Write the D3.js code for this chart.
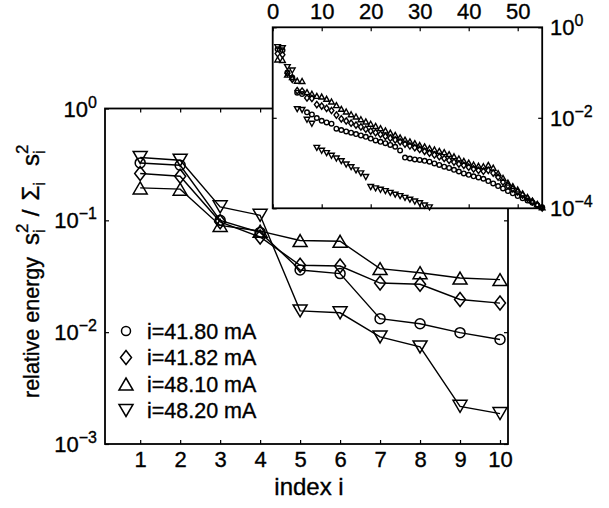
<!DOCTYPE html>
<html>
<head>
<meta charset="utf-8">
<script src="https://cdn.jsdelivr.net/npm/d3@7"></script>
<style>
  body { margin: 0; background: #fff; }
  text { font-family: "Liberation Sans", Arial, Helvetica, sans-serif; fill: #000; stroke: #000; stroke-width: 0.35px; }
</style>
</head>
<body>
<svg id="chart" width="609" height="508"></svg>
<script>
// relative energy s_i^2 / sum s_i^2, one array per current (index i = position + 1)
var energy4180 = [0.326, 0.311, 0.100, 0.078, 0.036, 0.0334, 0.0132, 0.0119, 0.0099, 0.0086,
  7.9e-3, 7.4e-3, 5.75e-3, 5.37e-3, 5.0e-3, 4.68e-3, 4.37e-3, 4.07e-3, 3.8e-3, 3.47e-3,
  3.16e-3, 2.95e-3, 2.75e-3, 2.51e-3, 2.29e-3, 1.9e-3, 1.32e-3, 1.26e-3, 1.2e-3, 1.17e-3,
  1.12e-3, 1.07e-3, 9.8e-4, 9.1e-4, 8.3e-4, 7.8e-4, 7.1e-4, 6.5e-4, 5.9e-4, 5.5e-4,
  5.1e-4, 4.8e-4, 4.5e-4, 4.0e-4, 3.55e-4, 3.1e-4, 2.75e-4, 2.4e-4, 2.14e-4, 1.86e-4,
  1.66e-4, 1.48e-4, 1.32e-4, 1.17e-4, 1.05e-4];
var energy4182 = [0.262, 0.248, 0.097, 0.071, 0.0397, 0.039, 0.0275, 0.0268, 0.0196, 0.0182,
  1.62e-2, 1.45e-2, 1.15e-2, 9.5e-3, 8.5e-3, 7.6e-3, 6.9e-3, 6.3e-3, 5.6e-3, 5.1e-3,
  4.7e-3, 4.3e-3, 3.9e-3, 3.55e-3, 3.24e-3, 2.95e-3, 2.63e-3, 2.4e-3, 2.19e-3, 2.0e-3,
  1.82e-3, 1.66e-3, 1.51e-3, 1.38e-3, 1.26e-3, 1.15e-3, 1.05e-3, 9.5e-4, 8.9e-4, 8.1e-4,
  7.4e-4, 6.9e-4, 6.6e-4, 6.9e-4, 6.0e-4, 4.9e-4, 3.8e-4, 3.16e-4, 2.7e-4, 2.3e-4,
  1.95e-4, 1.66e-4, 1.41e-4, 1.2e-4, 1.02e-4];
var energy4810 = [0.195, 0.19, 0.090, 0.080, 0.066, 0.065, 0.037, 0.034, 0.0305, 0.0295,
  2.63e-2, 2.29e-2, 1.91e-2, 1.58e-2, 1.38e-2, 1.2e-2, 1.07e-2, 9.3e-3, 8.3e-3, 7.4e-3,
  6.6e-3, 5.9e-3, 5.25e-3, 4.7e-3, 4.2e-3, 3.7e-3, 3.3e-3, 3.0e-3, 2.75e-3, 2.5e-3,
  2.34e-3, 2.14e-3, 2.0e-3, 1.86e-3, 1.74e-3, 1.58e-3, 1.41e-3, 1.26e-3, 1.12e-3, 1.02e-3,
  9.3e-4, 8.7e-4, 8.5e-4, 9.1e-4, 7.9e-4, 6.0e-4, 4.7e-4, 3.7e-4, 3.1e-4, 2.6e-4,
  2.14e-4, 1.78e-4, 1.48e-4, 1.23e-4, 1.05e-4];
// falls below 1e-4 after i = 32
var energy4820 = [0.365, 0.345, 0.132, 0.111, 0.0155, 0.0149, 0.00906, 0.00738, 0.00217, 0.00187,
  1.66e-3, 1.45e-3, 1.26e-3, 1.1e-3, 9.3e-4, 8.1e-4, 6.9e-4, 5.9e-4, 4.9e-4, 2.95e-4,
  2.75e-4, 2.57e-4, 2.4e-4, 2.19e-4, 2.0e-4, 1.86e-4, 1.7e-4, 1.55e-4, 1.41e-4, 1.29e-4,
  1.15e-4, 1.05e-4];

var seriesLabels = ['i=41.80 mA', 'i=41.82 mA', 'i=48.10 mA', 'i=48.20 mA'];
var seriesShapes = ['circle', 'diamond', 'up', 'down'];

var mainXTicks = [1, 2, 3, 4, 5, 6, 7, 8, 9, 10];
var mainYExp = [0, -1, -2, -3];
var insetXTicks = [0, 10, 20, 30, 40, 50];
var insetYExp = [0, -2, -4];

var mainCount = 10;

var svg = d3.select('#chart');

var allSeries = [energy4180, energy4182, energy4810, energy4820].map(function (vals, k) {
  return {
    label: seriesLabels[k],
    shape: seriesShapes[k],
    points: vals.map(function (v, i) { return { i: i + 1, v: v }; })
  };
});

// marker outline around (0,0); w = half width, h = half height
function markerPath(shape, w, h) {
  if (shape === 'circle') {
    return 'M' + (-w) + ',0A' + w + ',' + w + ' 0 1,0 ' + w + ',0A' + w + ',' + w + ' 0 1,0 ' + (-w) + ',0Z';
  }
  if (shape === 'diamond') {
    return 'M0,' + (-h) + 'L' + w + ',0L0,' + h + 'L' + (-w) + ',0Z';
  }
  if (shape === 'up') {
    return 'M0,' + (-h) + 'L' + w + ',' + h + 'L' + (-w) + ',' + h + 'Z';
  }
  return 'M0,' + h + 'L' + w + ',' + (-h) + 'L' + (-w) + ',' + (-h) + 'Z';
}
var mainSize = { circle: [5, 5], diamond: [5.5, 7], up: [7, 6], down: [7, 6] };
var insetSize = { circle: [2.3, 2.3], diamond: [2.4, 3.2], up: [2.8, 2.5], down: [2.8, 2.5] };

function supLabel(sel, exp, base, sup) {
  sel.append('tspan').text('10').style('font-size', base + 'px');
  sel.append('tspan').text(exp === 0 ? '0' : '\u2212' + Math.abs(exp))
    .attr('dy', -9).style('font-size', sup + 'px');
}

function styleAxis(g) {
  g.select('.domain').remove();
  g.selectAll('.tick line').attr('stroke', '#000').attr('stroke-width', 1.2);
  g.selectAll('.tick text').style('font-size', '22px').attr('fill', '#000');
}

// ---------------- main axes ----------------
var x = d3.scaleLinear().domain([0.12, 10.2]).range([105, 508]);
var y = d3.scaleLog().domain([1e-3, 1]).range([444, 108.5]);
var mainYVals = mainYExp.map(function (e) { return Math.pow(10, e); });

svg.append('g').attr('transform', 'translate(0,444)')
  .call(d3.axisBottom(x).tickValues(mainXTicks).tickSizeInner(-4).tickSizeOuter(0).tickPadding(7))
  .call(styleAxis);
svg.append('g').attr('transform', 'translate(0,108.5)')
  .call(d3.axisTop(x).tickValues(mainXTicks).tickSizeInner(-4).tickSizeOuter(0).tickFormat(''))
  .call(styleAxis);
svg.append('g').attr('transform', 'translate(105,0)')
  .call(d3.axisLeft(y).tickValues(mainYVals).tickSizeInner(-4).tickSizeOuter(0).tickFormat(''))
  .call(styleAxis);
svg.append('g').attr('transform', 'translate(508,0)')
  .call(d3.axisRight(y).tickValues(mainYVals).tickSizeInner(-4).tickSizeOuter(0).tickFormat(''))
  .call(styleAxis);

svg.append('g').selectAll('text')
  .data(mainYExp)
  .enter().append('text')
  .attr('x', 97)
  .attr('y', function (e) { return y(Math.pow(10, e)) + 8; })
  .attr('text-anchor', 'end')
  .each(function (e) { supLabel(d3.select(this), e, 22, 16); });

svg.append('rect')
  .attr('x', 105).attr('y', 108.5).attr('width', 403).attr('height', 335.5)
  .attr('fill', 'none').attr('stroke', '#000').attr('stroke-width', 1.8);

var line = d3.line()
  .x(function (d) { return x(d.i); })
  .y(function (d) { return y(d.v); });

var main = svg.append('g');
allSeries.forEach(function (s) {
  var pts = s.points.slice(0, mainCount);
  main.append('path')
    .datum(pts)
    .attr('d', line)
    .attr('fill', 'none').attr('stroke', '#000').attr('stroke-width', 1.4);
  main.selectAll(null)
    .data(pts)
    .enter().append('path')
    .attr('transform', function (d) { return 'translate(' + x(d.i) + ',' + y(d.v) + ')'; })
    .attr('d', markerPath(s.shape, mainSize[s.shape][0], mainSize[s.shape][1]))
    .attr('fill', 'none').attr('stroke', '#000').attr('stroke-width', 1.5);
});

// axis titles
svg.append('text')
  .attr('x', 309).attr('y', 495)
  .attr('text-anchor', 'middle')
  .style('font-size', '24px')
  .text('index i');

var ylab = svg.append('text')
  .attr('transform', 'translate(39,398) rotate(-90)')
  .style('font-size', '21.5px');
ylab.append('tspan').text('relative energy');
ylab.append('tspan').attr('dx', 12).style('font-size', '24px').text('s');
ylab.append('tspan').attr('dy', -11).style('font-size', '17px').text('2');
ylab.append('tspan').attr('dx', -9.5).attr('dy', 17).style('font-size', '17px').text('i');
ylab.append('tspan').attr('dx', 13).attr('dy', -6).style('font-size', '24px').text('/');
ylab.append('tspan').attr('dx', 9).style('font-size', '24px').text('\u03A3');
ylab.append('tspan').attr('dy', 6).style('font-size', '17px').text('i');
ylab.append('tspan').attr('dx', 16).attr('dy', -6).style('font-size', '24px').text('s');
ylab.append('tspan').attr('dy', -11).style('font-size', '17px').text('2');
ylab.append('tspan').attr('dx', -9.5).attr('dy', 17).style('font-size', '17px').text('i');

// legend (no box)
var legend = svg.append('g');
var legRow = legend.selectAll('g')
  .data(allSeries)
  .enter().append('g')
  .attr('transform', function (d, k) { return 'translate(126,' + (331 + k * 26.5) + ')'; });
legRow.append('path')
  .attr('d', function (d) {
    var sz = d.shape === 'circle' ? [4.5, 4.5] : mainSize[d.shape];
    return markerPath(d.shape, sz[0], sz[1]);
  })
  .attr('fill', 'none').attr('stroke', '#000').attr('stroke-width', 1.5);
legRow.append('text')
  .attr('x', 21).attr('y', 7.5)
  .style('font-size', '21.5px')
  .text(function (d) { return d.label; });

// ---------------- inset: full spectrum ----------------
var ix = d3.scaleLinear().domain([0, 55]).range([272.7, 542.2]);
var iy = d3.scaleLog().domain([1e-4, 1]).range([208.3, 27.3]);
var insetYVals = insetYExp.map(function (e) { return Math.pow(10, e); });

svg.append('rect')
  .attr('x', 272.7).attr('y', 27.3).attr('width', 269.5).attr('height', 181)
  .attr('fill', '#fff').attr('stroke', 'none');

svg.append('g').attr('transform', 'translate(0,27.3)')
  .call(d3.axisTop(ix).tickValues(insetXTicks).tickSizeInner(-4).tickSizeOuter(0).tickPadding(8))
  .call(styleAxis);
svg.append('g').attr('transform', 'translate(0,208.3)')
  .call(d3.axisBottom(ix).tickValues(insetXTicks).tickSizeInner(-4).tickSizeOuter(0).tickFormat(''))
  .call(styleAxis);
svg.append('g').attr('transform', 'translate(272.7,0)')
  .call(d3.axisLeft(iy).tickValues(insetYVals).tickSizeInner(-4).tickSizeOuter(0).tickFormat(''))
  .call(styleAxis);
svg.append('g').attr('transform', 'translate(542.2,0)')
  .call(d3.axisRight(iy).tickValues(insetYVals).tickSizeInner(-4).tickSizeOuter(0).tickFormat(''))
  .call(styleAxis);

svg.append('g').selectAll('text')
  .data(insetYExp)
  .enter().append('text')
  .attr('x', 550)
  .attr('y', function (e) { return iy(Math.pow(10, e)) + 8; })
  .each(function (e) { supLabel(d3.select(this), e, 22, 16); });

var inset = svg.append('g');
allSeries.forEach(function (s) {
  inset.selectAll(null)
    .data(s.points)
    .enter().append('path')
    .attr('transform', function (d) { return 'translate(' + ix(d.i) + ',' + iy(d.v) + ')'; })
    .attr('d', markerPath(s.shape, insetSize[s.shape][0], insetSize[s.shape][1]))
    .attr('fill', 'none').attr('stroke', '#000').attr('stroke-width', 1.4);
});

svg.append('rect')
  .attr('x', 272.7).attr('y', 27.3).attr('width', 269.5).attr('height', 181)
  .attr('fill', 'none').attr('stroke', '#000').attr('stroke-width', 1.8);
</script>
</body>
</html>
